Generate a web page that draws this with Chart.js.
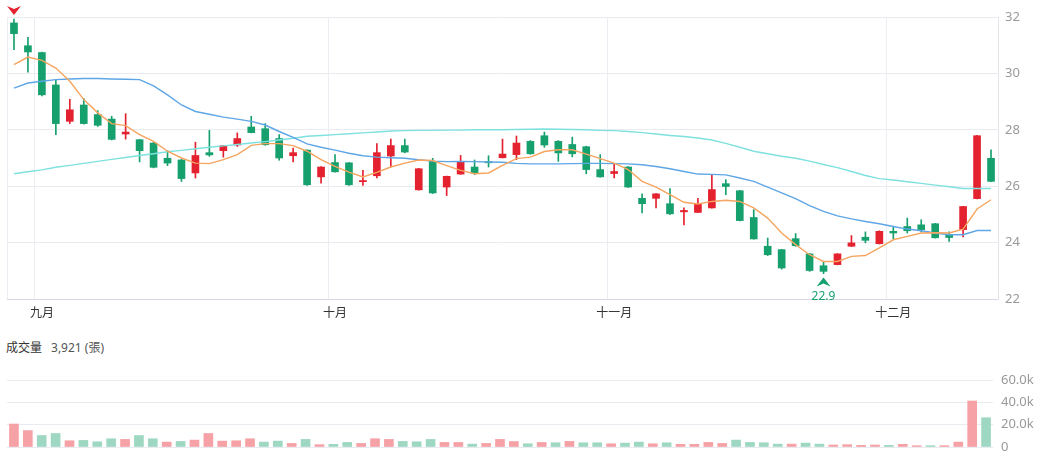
<!DOCTYPE html>
<html>
<head>
<meta charset="utf-8">
<script src="https://cdn.jsdelivr.net/npm/chart.js@4.4.0/dist/chart.umd.min.js"></script>
<style>
  body { margin: 0; background: #fff; font-family: 'Noto Sans', 'Noto Sans CJK TC', sans-serif; }
  #wrap { position: relative; width: 1048px; height: 457px; overflow: hidden; }
  #price { position: absolute; left: 0; top: 0; }
  #vol { position: absolute; left: 0; top: 360px; }
  #volTitle { position: absolute; left: 6px; top: 339px; font-size: 12px; line-height: 17px; color: #333; white-space: nowrap; }
  #volTitle span { color: #555; margin-left: 9px; }
</style>
</head>
<body>
<div id="wrap">
  <canvas id="price" width="1048" height="325"></canvas>
  <div id="volTitle">成交量<span>3,921 (張)</span></div>
  <canvas id="vol" width="1048" height="97"></canvas>
</div>
<script>
// month tick positions (candle index -> label)
const monthTicks = { 2: '九月', 23: '十月', 43: '十一月', 63: '十二月' };
const priceTicks = [22, 24, 26, 28, 30, 32];

const opens = [31.79, 30.98, 30.74, 29.59, 28.30, 28.88, 28.54, 28.38, 27.85, 27.65, 27.53,
  26.99, 26.93, 26.47, 27.19, 27.26, 27.46, 28.10, 28.04, 27.69, 27.08,
  27.28, 26.33, 26.84, 26.83, 26.16, 26.37, 27.07, 27.44, 25.87, 26.88,
  25.97, 26.43, 26.68, 26.87, 27.01, 27.12, 27.59, 27.79, 27.59, 27.48, 27.40,
  26.59, 26.45, 26.68, 25.57, 25.57, 25.38, 25.09, 25.07, 25.23, 26.09,
  25.84, 24.89, 23.87, 23.75, 24.14, 23.60, 23.18, 23.22, 23.87, 24.19, 23.96,
  24.40, 24.57, 24.63, 24.67, 24.28, 24.46, 25.56, 26.99];
const highs = [31.93, 31.28, 30.76, 29.78, 29.08, 29.11, 28.68, 28.48, 28.57, 27.66, 27.55,
  27.26, 26.95, 27.56, 27.98, 27.45, 27.89, 28.48, 28.22, 27.83, 27.35,
  27.29, 26.70, 27.12, 26.84, 26.56, 27.51, 27.67, 27.67, 26.63, 26.99,
  26.36, 27.09, 26.93, 27.08, 27.67, 27.78, 27.62, 27.92, 27.62, 27.74, 27.42,
  27.12, 26.79, 26.70, 25.73, 25.74, 25.92, 25.23, 25.57, 26.41, 26.23,
  25.85, 25.17, 24.16, 23.76, 24.32, 23.61, 23.30, 23.61, 24.25, 24.38, 24.42,
  24.54, 24.87, 24.81, 24.68, 24.38, 25.29, 27.80, 27.29];
const lows = [30.84, 30.04, 29.20, 27.83, 28.22, 28.20, 28.12, 27.64, 27.67, 26.86, 26.65,
  26.73, 26.17, 26.29, 27.06, 27.03, 27.41, 27.89, 27.45, 26.92, 26.86,
  26.03, 26.11, 26.50, 26.03, 26.03, 26.29, 26.68, 27.18, 25.86, 25.74,
  25.67, 26.42, 26.41, 26.68, 27.00, 26.94, 27.13, 27.38, 26.88, 27.04, 26.44,
  26.32, 26.29, 25.96, 25.05, 25.23, 25.00, 24.63, 25.06, 25.22, 25.70,
  24.77, 24.12, 23.54, 23.06, 23.87, 22.98, 22.90, 23.21, 23.86, 23.99, 23.95,
  24.13, 24.34, 24.38, 24.16, 24.04, 24.20, 25.55, 26.16];
const closes = [31.41, 30.76, 29.24, 28.22, 28.71, 28.22, 28.16, 27.66, 27.92, 27.26, 26.67,
  26.82, 26.27, 27.09, 27.11, 27.44, 27.69, 27.90, 27.47, 27.00, 27.19,
  26.05, 26.68, 26.51, 26.05, 26.20, 27.19, 27.44, 27.21, 26.62, 25.76,
  26.35, 26.88, 26.47, 26.83, 27.14, 27.53, 27.15, 27.46, 27.18, 27.15, 26.59,
  26.33, 26.52, 25.97, 25.38, 25.73, 25.02, 25.14, 25.38, 25.88, 25.99,
  24.78, 24.13, 23.57, 23.10, 23.89, 23.01, 22.98, 23.60, 23.99, 24.08, 24.40,
  24.34, 24.42, 24.46, 24.17, 24.18, 25.28, 27.79, 26.17];

// moving averages as drawn
const ma5 = [30.31, 30.58, 30.46, 30.19, 29.72, 29.07, 28.60, 28.22, 28.15, 27.83, 27.59,
  27.24, 27.00, 26.82, 26.80, 26.94, 27.12, 27.45, 27.51, 27.51, 27.44,
  27.24, 26.94, 26.70, 26.50, 26.33, 26.49, 26.68, 26.82, 26.93, 26.91,
  26.73, 26.56, 26.44, 26.47, 26.74, 26.98, 27.03, 27.23, 27.29, 27.29, 27.14,
  26.98, 26.82, 26.59, 26.17, 25.97, 25.70, 25.43, 25.37, 25.46, 25.50,
  25.46, 25.23, 24.87, 24.34, 23.93, 23.57, 23.33, 23.33, 23.51, 23.54, 23.81,
  24.10, 24.22, 24.34, 24.35, 24.34, 24.48, 25.19, 25.52];
const ma20 = [29.48, 29.66, 29.72, 29.78, 29.80, 29.82, 29.82, 29.80, 29.79, 29.78, 29.56,
  29.24, 28.88, 28.65, 28.55, 28.45, 28.38, 28.30, 28.17, 27.94, 27.73,
  27.50, 27.38, 27.28, 27.17, 27.08, 27.03, 27.01, 26.99, 26.94, 26.89,
  26.87, 26.88, 26.87, 26.86, 26.85, 26.81, 26.79, 26.79, 26.79, 26.80, 26.81,
  26.81, 26.80, 26.79, 26.76, 26.70, 26.62, 26.52, 26.43, 26.42, 26.40,
  26.29, 26.17, 25.97, 25.76, 25.56, 25.31, 25.11, 24.95, 24.84, 24.75, 24.67,
  24.57, 24.48, 24.42, 24.34, 24.28, 24.28, 24.43, 24.43];
const ma60 = [26.44, 26.51, 26.58, 26.67, 26.74, 26.81, 26.88, 26.95, 27.02, 27.09, 27.15,
  27.22, 27.27, 27.33, 27.38, 27.43, 27.48, 27.53, 27.58, 27.64, 27.70,
  27.77, 27.80, 27.83, 27.86, 27.89, 27.92, 27.96, 27.97, 27.98, 27.98,
  27.99, 27.99, 28.00, 28.00, 28.00, 28.01, 28.02, 28.03, 28.02, 28.01, 28.00,
  27.98, 27.97, 27.94, 27.90, 27.85, 27.80, 27.76, 27.71, 27.64, 27.52,
  27.38, 27.24, 27.15, 27.06, 26.99, 26.89, 26.77, 26.66, 26.52, 26.38, 26.27,
  26.22, 26.16, 26.10, 26.04, 25.98, 25.92, 25.92, 25.92];

// volume (張) and bar colour flag (1 = red, 0 = green)
const volume = [20600, 14700, 10300, 12100, 5600, 5900, 4700, 7400, 6800, 10300, 7400,
  4400, 5000, 6200, 12100, 5300, 5600, 7400, 4400, 5300, 3200,
  6800, 2100, 2400, 4100, 3200, 7400, 6800, 5000, 4700, 6800,
  4100, 4100, 2600, 3200, 6800, 4900,
  2900, 4100, 3800, 5000, 3800, 3800, 2900, 3500, 4400, 2900, 3800,
  2400, 2400, 4100, 3200, 6200, 4100, 3800, 2600, 2600, 3500, 2600,
  1800, 2100, 1500, 1800, 1500, 2400, 1200, 1200, 1200, 4400, 41200, 26200];
const volUp = [1, 1, 0, 0, 1, 0, 0, 0, 1, 0, 0,
  1, 0, 1, 1, 1, 1, 1, 0, 0, 1,
  0, 1, 0, 0, 1, 1, 1, 0, 0, 0,
  1, 1, 0, 1, 1, 1,
  0, 1, 0, 1, 0, 0, 1, 0, 0, 1, 0,
  1, 1, 1, 1, 0, 0, 0, 0, 1, 0, 0,
  1, 1, 1, 1, 0, 1, 1, 0, 1, 1, 1, 0];
const volTicks = [0, 20000, 40000, 60000];

const RED = '#e4212e', GREEN = '#16a06e';
const VOL_RED = '#f5a1a6', VOL_GREEN = '#9ed8c2';
const FONT = "'Noto Sans', 'Noto Sans CJK TC', sans-serif";

const labels = opens.map((o, i) => monthTicks[i] || '');
const candleColors = opens.map((o, i) => closes[i] >= o ? RED : GREEN);

// high / low markers
const markerPlugin = {
  id: 'markers',
  afterDraw(chart) {
    const ctx = chart.ctx;
    const xs = chart.scales.x, ys = chart.scales.y;
    let hi = 0, lo = 0;
    highs.forEach((h, i) => { if (h > highs[hi]) hi = i; });
    lows.forEach((l, i) => { if (l < lows[lo]) lo = i; });

    function arrow(x, tipY, dir, color) {
      ctx.beginPath();
      ctx.moveTo(x, tipY);
      ctx.lineTo(x - 7, tipY - 9 * dir);
      ctx.lineTo(x, tipY - 6 * dir);
      ctx.lineTo(x + 7, tipY - 9 * dir);
      ctx.closePath();
      ctx.fillStyle = color;
      ctx.fill();
    }
    ctx.save();
    const hx = xs.getPixelForValue(hi), hy = ys.getPixelForValue(highs[hi]);
    arrow(hx, hy - 4, 1, RED);
    const lx = xs.getPixelForValue(lo), ly = ys.getPixelForValue(lows[lo]);
    arrow(lx, ly + 4, -1, GREEN);
    ctx.font = '12px ' + FONT;
    ctx.fillStyle = GREEN;
    ctx.textAlign = 'center';
    ctx.textBaseline = 'top';
    ctx.fillText(lows[lo].toFixed(1), lx, ly + 17);
    ctx.restore();
  }
};

function lineDs(data, color) {
  return { type: 'line', data: data, borderColor: color, borderWidth: 1.4, pointRadius: 0, tension: 0, order: 0 };
}

new Chart(document.getElementById('price').getContext('2d'), {
  type: 'bar',
  data: {
    labels: labels,
    datasets: [
      lineDs(ma5, '#f5a560'),
      lineDs(ma20, '#5ea6e6'),
      lineDs(ma60, '#7fe1df'),
      {
        data: opens.map((o, i) => [o, closes[i]]),
        backgroundColor: candleColors,
        barThickness: 7,
        minBarLength: 1,
        grouped: false,
        order: 1
      },
      {
        data: lows.map((l, i) => [l, highs[i]]),
        backgroundColor: candleColors,
        barThickness: 1,
        grouped: false,
        order: 2
      }
    ]
  },
  options: {
    responsive: false,
    animation: false,
    events: [],
    layout: { padding: { left: 7, top: 17, right: 0, bottom: 0 } },
    plugins: { legend: { display: false }, tooltip: { enabled: false } },
    scales: {
      x: {
        offset: true,
        grid: {
          offset: true,
          drawTicks: false,
          color: c => (c.index === 0 || monthTicks[c.index]) ? '#eceef3' : 'rgba(0,0,0,0)'
        },
        border: { color: '#d8d8e8' },
        ticks: {
          autoSkip: false, maxRotation: 0, padding: 7, color: '#333',
          font: { size: 12, family: FONT },
          callback: (v, i) => labels[i]
        },
        afterFit: s => { s.height = 26; }
      },
      y: {
        position: 'right',
        min: priceTicks[0],
        max: priceTicks[priceTicks.length - 1],
        afterBuildTicks: s => { s.ticks = priceTicks.map(v => ({ value: v })); },
        grid: { drawTicks: false, color: '#e9ebf1' },
        border: { display: true, color: '#e3e5eb' },
        ticks: { padding: 7, color: '#999', font: { size: 13, family: FONT } },
        afterFit: s => { s.width = 50; }
      }
    }
  },
  plugins: [markerPlugin]
});

new Chart(document.getElementById('vol').getContext('2d'), {
  type: 'bar',
  data: {
    labels: labels,
    datasets: [{
      data: volume,
      backgroundColor: volUp.map(u => u ? VOL_RED : VOL_GREEN),
      barThickness: 9
    }]
  },
  options: {
    responsive: false,
    animation: false,
    events: [],
    layout: { padding: { left: 7, top: 20, right: 0, bottom: 10 } },
    plugins: { legend: { display: false }, tooltip: { enabled: false } },
    scales: {
      x: { display: false },
      y: {
        position: 'right',
        min: volTicks[0],
        max: volTicks[volTicks.length - 1],
        afterBuildTicks: s => { s.ticks = volTicks.map(v => ({ value: v })); },
        grid: { drawTicks: false, color: '#e9ebf1' },
        border: { display: false },
        ticks: {
          padding: 8, color: '#999', font: { size: 13, family: FONT },
          callback: v => v === 0 ? '0' : (v / 1000).toFixed(1) + 'k'
        },
        afterFit: s => { s.width = 55; s.paddingTop = 0; s.paddingBottom = 0; }
      }
    }
  }
});
</script>
</body>
</html>
